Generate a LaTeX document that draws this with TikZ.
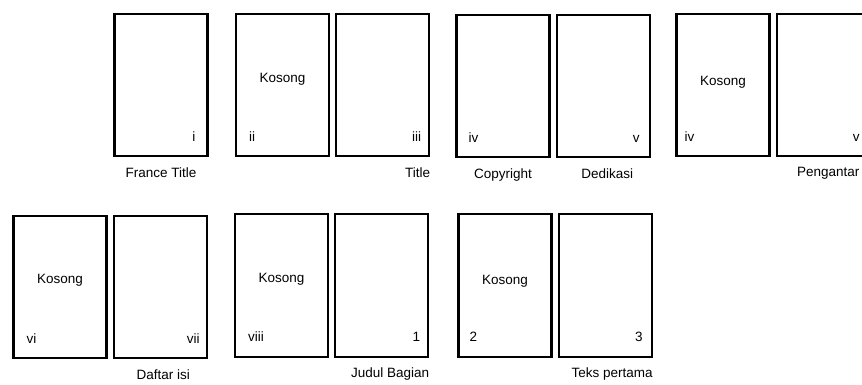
\documentclass[tikz,border=0pt]{standalone}
\usepackage{fontspec}
\setmainfont{Liberation Sans}
\usetikzlibrary{positioning}

\begin{document}
\begin{tikzpicture}[x=1pt, y=-1pt, node distance=5pt,
    every node/.style={font=\fontsize{13.5}{15}\selectfont, inner sep=0pt},
    page/.style={draw, line width=2.2pt, minimum width=93pt, minimum height=142.5pt}]
    \useasboundingbox (0,0) rectangle (862,385);
    \clip (0,0) rectangle (862,385);

    % row 1
    \node[page] (pi) at (161,85) {};
    \node[page] (pii) at (282.5,85) {};
    \node[page, right=of pii] (piii) {};
    \node[page] (piv) at (503,86) {};
    \node[page, right=of piv] (pv) {};
    \node[page] (pivb) at (723,85) {};
    \node[page, right=of pivb] (pvb) {};

    \node at ([yshift=6pt]pii.center) (kii) {Kosong};
    \node at ([yshift=3pt]pivb.center) (kivb) {Kosong};

    \node[above left=16pt and 13pt of pi.south east] (ni) {i};
    \node[above right=16pt and 14pt of pii.south west] (nii) {ii};
    \node[above left=16pt and 9pt of piii.south east] (niii) {iii};
    \node[above right=16pt and 13pt of piv.south west] (niv) {iv};
    \node[above left=16pt and 11pt of pv.south east] (nv) {v};
    \node[above right=16pt and 9pt of pivb.south west] (nivb) {iv};
    \node[above left=16pt and 11pt of pvb.south east] (nvb) {v};

    \node[below=10pt of pi] (cfrance) {France Title};
    \node[below left=10pt and 0pt of piii.south east] (ctitle) {Title};
    \node[below=10pt of piv] (ccopy) {Copyright};
    \node[below=10pt of pv, xshift=4pt] (cded) {Dedikasi};
    \node[below=10pt of pvb, xshift=5pt] (cpeng) {Pengantar};

    % row 2
    \node[page] (pvi) at (60,287) {};
    \node[page, right=of pvi] (pvii) {};
    \node[page] (pviii) at (281.5,285.5) {};
    \node[page, right=of pviii] (p1) {};
    \node[page] (p2) at (505,285.5) {};
    \node[page, right=of p2] (p3) {};

    \node at ([yshift=7pt]pvi.center) (kvi) {Kosong};
    \node at ([yshift=6pt]pviii.center) (kviii) {Kosong};
    \node at ([yshift=4pt]p2.center) (k2) {Kosong};

    \node[above right=16pt and 14pt of pvi.south west] (nvi) {vi};
    \node[above left=16pt and 8pt of pvii.south east] (nvii) {vii};
    \node[above right=16pt and 14pt of pviii.south west] (nviii) {viii};
    \node[above left=16pt and 9pt of p1.south east] (n1) {1};
    \node[above right=16pt and 12pt of p2.south west] (n2) {2};
    \node[above left=16pt and 10pt of p3.south east] (n3) {3};

    \node[below=10pt of pvii, xshift=3pt] (cdaftar) {Daftar isi};
    \node[below left=10pt and 0pt of p1.south east] (cjudul) {Judul Bagian};
    \node[below left=10pt and 0pt of p3.south east] (cteks) {Teks pertama};
\end{tikzpicture}
\end{document}
